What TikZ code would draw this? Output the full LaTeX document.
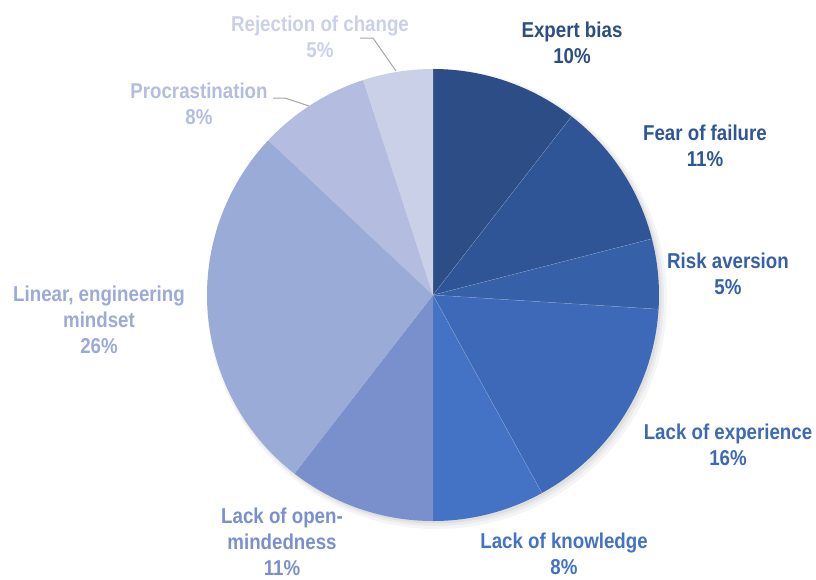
\documentclass[tikz,border=0pt]{standalone}
\usepackage{fontspec}
\setmainfont{Liberation Sans}[FakeStretch=0.87]
\usepackage{xcolor}

\definecolor{expertc}{HTML}{2C4D86}
\definecolor{fearc}{HTML}{2F5597}
\definecolor{riskc}{HTML}{3660A8}
\definecolor{experiencec}{HTML}{3D69B8}
\definecolor{knowledgec}{HTML}{4472C4}
\definecolor{openc}{HTML}{7A90CD}
\definecolor{linearc}{HTML}{9BABD8}
\definecolor{procc}{HTML}{B4BDE0}
\definecolor{rejectc}{HTML}{CBD0E9}

\tikzset{
	lbl/.style={align=center, inner sep=0pt, font=\fontsize{21.5}{26}\selectfont\bfseries},
	leader/.style={draw=gray!70, line width=1pt},
	sep/.style={draw=white, line width=0.3pt, opacity=0.35}
}

\begin{document}
\begin{tikzpicture}[x=1pt,y=-1pt]
				\useasboundingbox (0,0) rectangle (816,579);
				% soft shadow under the pie
				\fill [black,opacity=0.04] (437,299) circle (230);
				\fill [black,opacity=0.04] (436,298) circle (228);
				\fill [black,opacity=0.05] (435,297) circle (226.5);
				% slices, clockwise from the top
				\coordinate (ctr) at (433,295);
				\fill [expertc] (ctr) -- ++(-90:226) arc[start angle=-90,end angle=-52.2,radius=226] -- cycle;
				\fill [fearc] (ctr) -- ++(-52.2:226) arc[start angle=-52.2,end angle=-14.4,radius=226] -- cycle;
				\fill [riskc] (ctr) -- ++(-14.4:226) arc[start angle=-14.4,end angle=3.6,radius=226] -- cycle;
				\fill [experiencec] (ctr) -- ++(3.6:226) arc[start angle=3.6,end angle=61.2,radius=226] -- cycle;
				\fill [knowledgec] (ctr) -- ++(61.2:226) arc[start angle=61.2,end angle=90,radius=226] -- cycle;
				\fill [openc] (ctr) -- ++(90:226) arc[start angle=90,end angle=127.8,radius=226] -- cycle;
				\fill [linearc] (ctr) -- ++(127.8:226) arc[start angle=127.8,end angle=223.2,radius=226] -- cycle;
				\fill [procc] (ctr) -- ++(223.2:226) arc[start angle=223.2,end angle=252,radius=226] -- cycle;
				\fill [rejectc] (ctr) -- ++(252:226) arc[start angle=252,end angle=270,radius=226] -- cycle;
				\draw [sep] (ctr) -- ++(-52.2:226);
				\draw [sep] (ctr) -- ++(-14.4:226);
				\draw [sep] (ctr) -- ++(3.6:226);
				\draw [sep] (ctr) -- ++(61.2:226);
				% labels
				\node [lbl,text=expertc] (expert) at (572,43){Expert bias\\10\%};
				\node [lbl,text=fearc] (fear) at (705,146){Fear of failure\\11\%};
				\node [lbl,text=riskc] (risk) at (728,274){Risk aversion\\5\%};
				\node [lbl,text=experiencec] (experience) at (728,445){Lack of experience\\16\%};
				\node [lbl,text=knowledgec] (knowledge) at (564,554){Lack of knowledge\\8\%};
				\node [lbl,text=openc] (open) at (282,542){Lack of open-\\mindedness\\11\%};
				\node [lbl,text=linearc] (linear) at (99,320){Linear, engineering\\mindset\\26\%};
				\node [lbl,text=procc] (proc) at (199,104){Procrastination\\8\%};
				\node [lbl,text=rejectc] (reject) at (320,37){Rejection of change\\5\%};
				% leader lines
				\coordinate (procA) at (273,98);
				\coordinate (procB) at (285,98);
				\coordinate (procC) at (309,106);
				\draw [leader] (procA) -- (procB) -- (procC);
				\coordinate (rejA) at (360,38);
				\coordinate (rejB) at (373,38);
				\coordinate (rejC) at (396,71);
				\draw [leader] (rejA) -- (rejB) -- (rejC);
			\end{tikzpicture}
\end{document}
